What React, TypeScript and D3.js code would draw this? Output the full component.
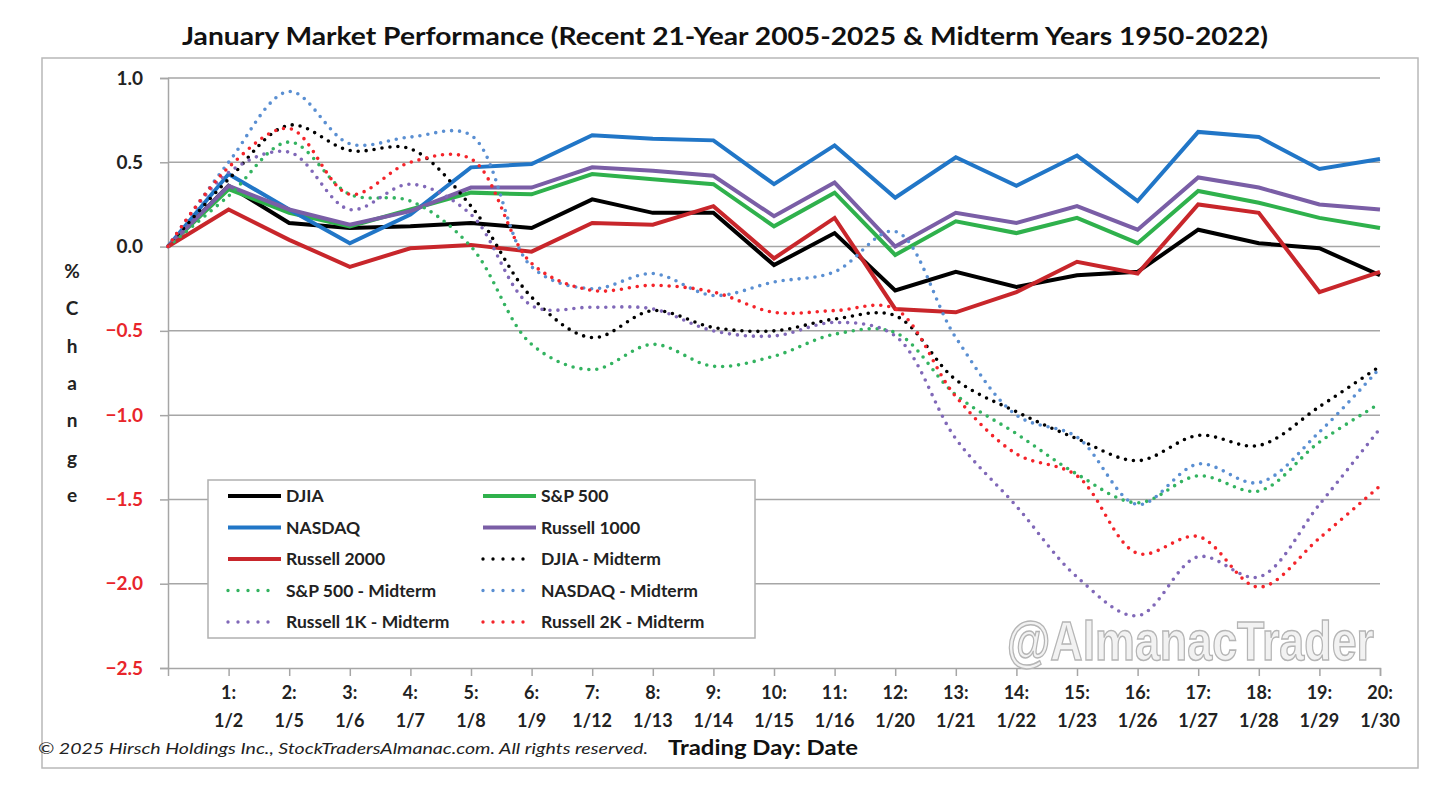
import * as d3 from "d3";
import { useEffect, useRef } from "react";

// trading day labels (day 0 = prior close)
const tradingDates = ["1/2", "1/5", "1/6", "1/7", "1/8", "1/9", "1/12", "1/13", "1/14", "1/15", "1/16", "1/20", "1/21", "1/22", "1/23", "1/26", "1/27", "1/28", "1/29", "1/30"];
const yTicks = [1.0, 0.5, 0.0, -0.5, -1.0, -1.5, -2.0, -2.5];

// recent 21-year averages
const djia = [0, 0.36, 0.14, 0.11, 0.12, 0.14, 0.11, 0.28, 0.2, 0.2, -0.11, 0.08, -0.26, -0.15, -0.24, -0.17, -0.15, 0.1, 0.02, -0.01, -0.17];
const sp500 = [0, 0.34, 0.2, 0.12, 0.22, 0.32, 0.31, 0.43, 0.4, 0.37, 0.12, 0.32, -0.05, 0.15, 0.08, 0.17, 0.02, 0.33, 0.26, 0.17, 0.11];
const nasdaq = [0, 0.43, 0.22, 0.02, 0.19, 0.47, 0.49, 0.66, 0.64, 0.63, 0.37, 0.6, 0.29, 0.53, 0.36, 0.54, 0.27, 0.68, 0.65, 0.46, 0.52];
const russell1000 = [0, 0.36, 0.22, 0.13, 0.21, 0.35, 0.35, 0.47, 0.45, 0.42, 0.18, 0.38, 0.0, 0.2, 0.14, 0.24, 0.1, 0.41, 0.35, 0.25, 0.22];
const russell2000 = [0, 0.22, 0.04, -0.12, -0.01, 0.01, -0.03, 0.14, 0.13, 0.24, -0.07, 0.17, -0.37, -0.39, -0.27, -0.09, -0.16, 0.25, 0.2, -0.27, -0.15];

// midterm years 1950-2022
const djiaMid = [0, 0.4, 0.72, 0.57, 0.58, 0.24, -0.3, -0.54, -0.38, -0.48, -0.5, -0.43, -0.41, -0.79, -0.98, -1.14, -1.27, -1.12, -1.18, -0.95, -0.71];
const sp500Mid = [0, 0.3, 0.62, 0.31, 0.27, 0.0, -0.58, -0.73, -0.58, -0.71, -0.65, -0.52, -0.51, -0.88, -1.11, -1.35, -1.52, -1.36, -1.45, -1.16, -0.93];
const nasdaqMid = [0, 0.5, 0.92, 0.61, 0.65, 0.66, -0.12, -0.25, -0.16, -0.29, -0.21, -0.15, 0.09, -0.54, -1.0, -1.13, -1.53, -1.29, -1.4, -1.1, -0.72];
const russell1kMid = [0, 0.44, 0.56, 0.22, 0.37, 0.19, -0.35, -0.36, -0.37, -0.5, -0.53, -0.45, -0.53, -1.14, -1.54, -1.96, -2.19, -1.84, -1.96, -1.53, -1.08];
const russell2kMid = [0, 0.47, 0.7, 0.31, 0.5, 0.52, -0.1, -0.26, -0.23, -0.27, -0.39, -0.38, -0.37, -0.89, -1.23, -1.36, -1.82, -1.72, -2.02, -1.73, -1.42];

const series = [
  { name: "DJIA", values: djia, color: "#000000", dotted: false },
  { name: "S&P 500", values: sp500, color: "#2fb14c", dotted: false },
  { name: "NASDAQ", values: nasdaq, color: "#2176c7", dotted: false },
  { name: "Russell 1000", values: russell1000, color: "#7a5ea6", dotted: false },
  { name: "Russell 2000", values: russell2000, color: "#c8262b", dotted: false },
  { name: "DJIA - Midterm", values: djiaMid, color: "#000000", dotted: true },
  { name: "S&P 500 - Midterm", values: sp500Mid, color: "#33b360", dotted: true },
  { name: "NASDAQ - Midterm", values: nasdaqMid, color: "#5a8fd2", dotted: true },
  { name: "Russell 1K - Midterm", values: russell1kMid, color: "#8068b8", dotted: true },
  { name: "Russell 2K - Midterm", values: russell2kMid, color: "#f4242a", dotted: true },
];

const FONT = "Lato, 'Open Sans', sans-serif";

export default function App() {
  const ref = useRef<SVGSVGElement | null>(null);

  useEffect(() => {
    if (!ref.current) return;
    const svg = d3.select(ref.current);
    svg.selectAll("*").remove();

    const W = 1446;
    const H = 790;
    const left = 168;
    const right = 1380;
    const top = 78;
    const bottom = 668;

    svg.attr("width", W).attr("height", H);
    svg.append("rect").attr("width", W).attr("height", H).attr("fill", "#fff");

    // outer frame
    svg
      .append("rect")
      .attr("x", 42)
      .attr("y", 58)
      .attr("width", 1376)
      .attr("height", 710)
      .attr("fill", "none")
      .attr("stroke", "#b8b8b8")
      .attr("stroke-width", 1.5);

    svg
      .append("text")
      .attr("x", 725)
      .attr("y", 45)
      .attr("text-anchor", "middle")
      .attr("font-family", FONT)
      .attr("font-weight", "bold")
      .attr("font-size", 24)
      .attr("textLength", 1086)
      .attr("lengthAdjust", "spacingAndGlyphs")
      .attr("fill", "#111")
      .text("January Market Performance (Recent 21-Year 2005-2025 & Midterm Years 1950-2022)");

    const x = d3.scaleLinear().domain([0, 20]).range([left, right]);
    const y = d3.scaleLinear().domain([-2.5, 1]).range([bottom, top]);

    // gridlines
    svg
      .append("g")
      .selectAll("line")
      .data(yTicks.filter((t) => t > -2.5))
      .enter()
      .append("line")
      .attr("x1", left)
      .attr("x2", right)
      .attr("y1", (d) => y(d))
      .attr("y2", (d) => y(d))
      .attr("stroke", "#a6a6a6")
      .attr("stroke-width", 1.5);

    // y axis
    const yAxis = svg
      .append("g")
      .attr("transform", `translate(${left},0)`)
      .call(d3.axisLeft(y).tickValues(yTicks).tickSize(8).tickPadding(17).tickFormat(d3.format(".1f")));
    yAxis.select(".domain").attr("stroke", "#a6a6a6").attr("stroke-width", 1.5);
    yAxis.selectAll(".tick line").attr("stroke", "#a6a6a6").attr("stroke-width", 1.5);
    yAxis
      .selectAll<SVGTextElement, number>(".tick text")
      .attr("font-family", FONT)
      .attr("font-weight", "bold")
      .attr("font-size", 19)
      .attr("fill", (d) => (d < 0 ? "#e8252b" : "#222"));

    // x axis
    const xAxis = svg
      .append("g")
      .attr("transform", `translate(0,${bottom})`)
      .call(d3.axisBottom(x).tickValues(d3.range(1, 21)).tickSize(8).tickFormat(() => ""));
    xAxis.select(".domain").attr("stroke", "#a6a6a6").attr("stroke-width", 1.5);
    xAxis.selectAll(".tick line").attr("stroke", "#a6a6a6").attr("stroke-width", 1.5);
    xAxis.selectAll(".tick text").remove();

    const xLabels = svg
      .append("g")
      .attr("font-family", FONT)
      .attr("font-weight", "bold")
      .attr("font-size", 18)
      .attr("fill", "#222")
      .attr("text-anchor", "middle");
    tradingDates.forEach((d, i) => {
      const t = xLabels.append("text").attr("transform", `translate(${x(i + 1)},0)`);
      t.append("tspan").attr("x", 0).attr("y", 699).text(`${i + 1}:`);
      t.append("tspan").attr("x", 0).attr("y", 727).text(d);
    });

    // y axis title, stacked letters
    svg
      .append("g")
      .selectAll("text")
      .data("%Change".split(""))
      .enter()
      .append("text")
      .attr("x", 72)
      .attr("y", (_, i) => 278 + i * 37.3)
      .attr("text-anchor", "middle")
      .attr("font-family", FONT)
      .attr("font-weight", "bold")
      .attr("font-size", 19)
      .attr("fill", "#222")
      .text((d) => d);

    // footer
    svg
      .append("text")
      .attr("x", 38)
      .attr("y", 754)
      .attr("font-family", FONT)
      .attr("font-style", "italic")
      .attr("font-size", 15)
      .attr("textLength", 610)
      .attr("lengthAdjust", "spacingAndGlyphs")
      .attr("fill", "#222")
      .text("\u00A9 2025 Hirsch Holdings Inc., StockTradersAlmanac.com. All rights reserved.");
    svg
      .append("text")
      .attr("x", 668)
      .attr("y", 755)
      .attr("font-family", FONT)
      .attr("font-weight", "bold")
      .attr("font-size", 21)
      .attr("textLength", 190)
      .attr("lengthAdjust", "spacingAndGlyphs")
      .attr("fill", "#111")
      .text("Trading Day: Date");

    // watermark, squeezed horizontally
    svg
      .append("text")
      .attr("transform", "translate(1374,660) scale(0.8,1)")
      .attr("text-anchor", "end")
      .attr("font-family", "'Liberation Sans', sans-serif")
      .attr("font-weight", "bold")
      .attr("font-size", 56)
      .attr("fill", "#f2f2f2")
      .attr("stroke", "#b5b5b5")
      .attr("stroke-width", 1.5)
      .text("@AlmanacTrader");

    // lines
    const solid = d3
      .line<number>()
      .x((_, i) => x(i))
      .y((d) => y(d));
    const smooth = d3
      .line<number>()
      .x((_, i) => x(i))
      .y((d) => y(d))
      .curve(d3.curveCatmullRom.alpha(0.5));

    const plot = svg.append("g");
    series.forEach((s) => {
      const p = plot
        .append("path")
        .attr("d", (s.dotted ? smooth : solid)(s.values))
        .attr("fill", "none")
        .attr("stroke", s.color);
      if (s.dotted) {
        p.attr("stroke-width", 3.6).attr("stroke-dasharray", "0 8").attr("stroke-linecap", "round");
      } else {
        p.attr("stroke-width", 4).attr("stroke-linejoin", "miter");
      }
    });

    // legend
    const lg = svg.append("g");
    lg.append("rect")
      .attr("x", 208)
      .attr("y", 480)
      .attr("width", 547)
      .attr("height", 158)
      .attr("fill", "#fff")
      .attr("stroke", "#b0b0b0")
      .attr("stroke-width", 1.5);
    series.forEach((s, i) => {
      const col = i % 2;
      const row = Math.floor(i / 2);
      const lx = col === 0 ? 228 : 483;
      const ly = 496 + row * 31.5;
      const l = lg
        .append("line")
        .attr("x1", lx)
        .attr("x2", lx + (s.dotted ? 50 : 53))
        .attr("y1", ly)
        .attr("y2", ly)
        .attr("stroke", s.color);
      if (s.dotted) {
        l.attr("stroke-width", 3.4).attr("stroke-dasharray", "0 10").attr("stroke-linecap", "round");
      } else {
        l.attr("stroke-width", 4);
      }
      lg.append("text")
        .attr("x", lx + 58)
        .attr("y", ly + 6)
        .attr("font-family", FONT)
        .attr("font-weight", "bold")
        .attr("font-size", 17.5)
        .attr("fill", "#222")
        .text(s.name);
    });
  }, []);

  return <svg ref={ref} style={{ position: "absolute", left: 0, top: 0 }}></svg>;
}
